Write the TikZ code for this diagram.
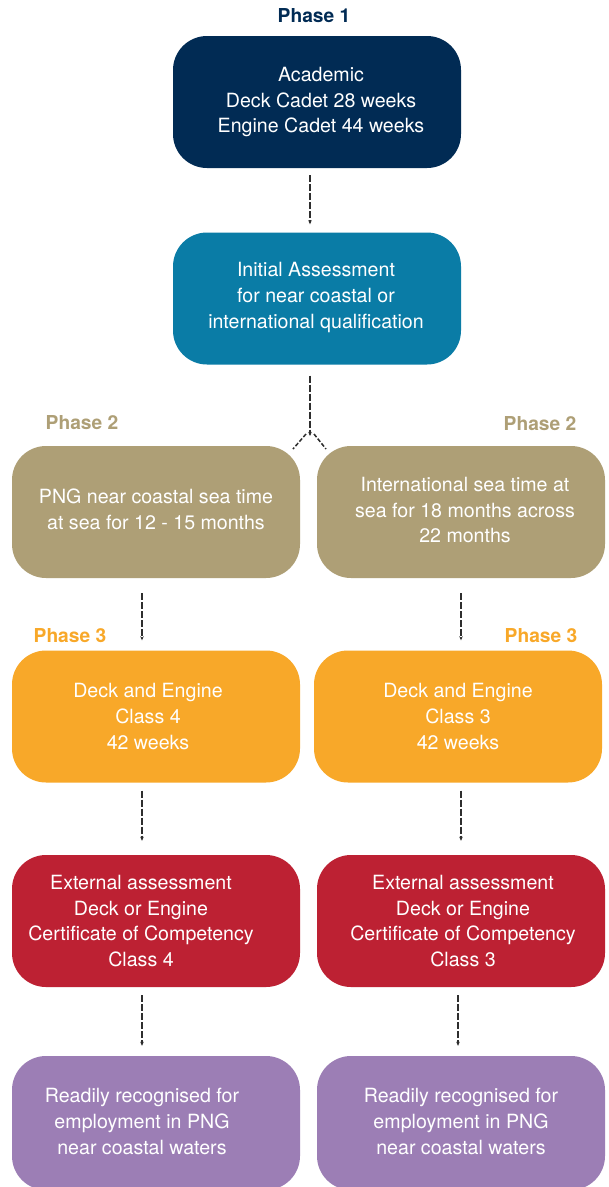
\documentclass[tikz,border=0pt]{standalone}
\usepackage{fontspec}
\setmainfont{TeX Gyre Heros}
\usetikzlibrary{arrows.meta}
\definecolor{navy}{HTML}{012B54}
\definecolor{teal}{HTML}{0A7CA6}
\definecolor{khaki}{HTML}{AE9F76}
\definecolor{orangeph}{HTML}{F8A829}
\definecolor{redph}{HTML}{BD2133}
\definecolor{purpleph}{HTML}{9C7EB5}
\definecolor{lineg}{HTML}{2E2E2E}
\tikzset{
  box/.style={rounded corners=34pt, minimum width=288pt, minimum height=132pt,
    inner sep=0pt},
  boxtext/.style={inner sep=0pt, align=center, text=white, font=\fontsize{19.6}{25.8}\selectfont},
  phase/.style={font=\fontsize{19.2}{22}\selectfont\bfseries, inner sep=0pt},
  conn/.style={draw=lineg, line width=1.7pt, dash pattern=on 7pt off 2pt,
    -{Stealth[length=4pt,width=3.5pt]}},
  branch/.style={draw=lineg, line width=1.5pt, dash pattern=on 4pt off 2pt}
}
\begin{document}
\begin{tikzpicture}[x=1pt,y=-1pt]
\useasboundingbox[fill=white] (0,0) rectangle (609,1187);
\begin{scope}
\clip (0,0) rectangle (609,1187);
% Phase 1
\node[phase, text=navy] (p1) at (314,16) {Phase 1};
\node[box, fill=navy] (b1) at (317,102) {};
\node[boxtext] (t1) at ([xshift=4pt]b1.center) {Academic\\Deck Cadet 28 weeks\\Engine Cadet 44 weeks};
\node[box, fill=teal] (b2) at (317,298.5) {};
\node[boxtext] (t2) at ([xshift=-1pt,yshift=1pt]b2.center) {Initial Assessment\\for near coastal or\\international qualification};
% Phase 2
\node[phase, text=khaki] (p2l) at (82,423) {Phase 2};
\node[phase, text=khaki] (p2r) at (540,424) {Phase 2};
\node[box, fill=khaki] (b3l) at (156,512) {};
\node[boxtext] (t3l) at ([yshift=3pt]b3l.center) {PNG near coastal sea time\\at sea for 12 - 15 months};
\node[box, fill=khaki] (b3r) at (461,512) {};
\node[boxtext] (t3r) at ([xshift=4pt,yshift=2pt]b3r.center) {International sea time at\\sea for 18 months across\\22 months};
% Phase 3
\node[phase, text=orangeph] (p3l) at (70,636) {Phase 3};
\node[phase, text=orangeph] (p3r) at (541,636) {Phase 3};
\node[box, fill=orangeph] (b4l) at (156,716.5) {};
\node[boxtext] (t4l) at ([xshift=-8pt]b4l.center) {Deck and Engine\\Class 4\\42 weeks};
\node[box, fill=orangeph] (b4r) at (458,716.5) {};
\node[boxtext] (t4r) at (b4r.center) {Deck and Engine\\Class 3\\42 weeks};
% external assessment
\node[box, fill=redph] (b5l) at (156,921) {};
\node[boxtext] (t5l) at ([xshift=-15pt]b5l.center) {External assessment\\Deck or Engine\\Certificate of Competency\\Class 4};
\node[box, fill=redph] (b5r) at (461,921) {};
\node[boxtext] (t5r) at ([xshift=2pt]b5r.center) {External assessment\\Deck or Engine\\Certificate of Competency\\Class 3};
% final
\node[box, fill=purpleph, minimum height=134pt] (b6l) at (156,1123) {};
\node[boxtext] (t6l) at ([xshift=-14pt,yshift=1.5pt]b6l.center) {Readily recognised for\\employment in PNG\\near coastal waters};
\node[box, fill=purpleph, minimum height=134pt] (b6r) at (461,1123) {};
\node[boxtext] (t6r) at ([yshift=1.5pt]b6r.center) {Readily recognised for\\employment in PNG\\near coastal waters};
% connectors
\draw[conn, shorten <=7pt, shorten >=8pt] ([xshift=-7pt]b1.south) -- ([xshift=-7pt]b2.north);
\coordinate (split) at (310,436);
\coordinate (sl) at (293,449);
\coordinate (sr) at (326,449);
\draw[conn, shorten <=11pt] ([xshift=-7pt]b2.south) -- (split);
\draw[branch] ([xshift=-4pt,yshift=2pt]split) -- (sl);
\draw[branch] ([xshift=4pt,yshift=2pt]split) -- (sr);
\draw[conn, shorten <=15pt, shorten >=10pt] ([xshift=-14pt]b3l.south) -- ([xshift=-14pt]b4l.north);
\draw[conn, shorten <=15pt, shorten >=10pt] (b3r.south) -- (b3r.south |- b4r.north);
\draw[conn, shorten <=8pt, shorten >=14pt] ([xshift=-14pt]b4l.south) -- ([xshift=-14pt]b5l.north);
\draw[conn, shorten <=8pt, shorten >=14pt] (b3r.south |- b4r.south) -- (b5r.north);
\draw[conn, shorten <=8pt, shorten >=10pt] ([xshift=-14pt]b5l.south) -- ([xshift=-14pt]b6l.north);
\draw[conn, shorten <=8pt, shorten >=10pt] ([xshift=-3pt]b5r.south) -- ([xshift=-3pt]b6r.north);
\end{scope}
\end{tikzpicture}
\end{document}
